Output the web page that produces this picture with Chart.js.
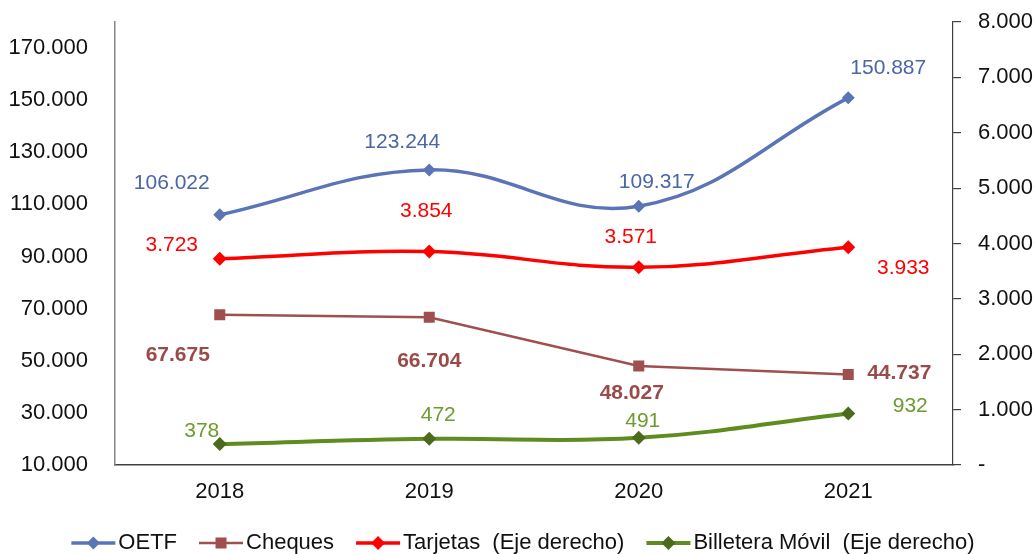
<!DOCTYPE html>
<html>
<head>
<meta charset="utf-8">
<script src="https://cdn.jsdelivr.net/npm/chart.js@4/dist/chart.umd.min.js"></script>
<style>
  html, body { margin: 0; padding: 0; background: #fff; }
  #wrap { width: 1036px; height: 554px; }
</style>
</head>
<body>
<div id="wrap"><canvas id="chart" width="1036" height="554"></canvas></div>
<script>
// datos
const years = ['2018', '2019', '2020', '2021']
const oetf = [106022, 123244, 109317, 150887]
const cheques = [67675, 66704, 48027, 44737]
const tarjetas = [3723, 3854, 3571, 3933]        // eje derecho
const billetera = [378, 472, 491, 932]           // eje derecho
const leftTicks = [10000, 30000, 50000, 70000, 90000, 110000, 130000, 150000, 170000]
const rightTicks = [0, 1000, 2000, 3000, 4000, 5000, 6000, 7000, 8000]

// desplazamiento de las etiquetas respecto del punto (px)
const labelShift = {
  OETF: [[-48, -32], [-27, -28], [18, -24], [40, -30]],
  Cheques: [[-42, 40], [0, 44], [-7, 27], [51, -1]],
  Tarjetas: [[-48, -14], [-3, -40], [-8, -30], [55, 21]],
  Billetera: [[-18, -13], [9, -24], [4, -17], [62, -7]]
}

const FONT = '"Liberation Sans", Arial, sans-serif'
const fmt = v => v === 0 ? '-' : v.toLocaleString('de-DE')

const valueLabels = {
  id: 'valueLabels',
  afterDatasetsDraw(chart) {
    const ctx = chart.ctx
    chart.data.datasets.forEach((ds, i) => {
      const meta = chart.getDatasetMeta(i)
      const shifts = labelShift[ds.key]
      ctx.save()
      ctx.font = (ds.key === 'Cheques' ? 'bold ' : '') + '21px ' + FONT
      ctx.fillStyle = ds.labelColor
      ctx.textAlign = 'center'
      ctx.textBaseline = 'middle'
      meta.data.forEach((pt, j) => {
        ctx.fillText(fmt(ds.data[j]), pt.x + shifts[j][0], pt.y + shifts[j][1])
      })
      ctx.restore()
    })
  }
}

const lineLegend = {
  id: 'lineLegend',
  afterDraw(chart) {
    const ctx = chart.ctx
    const y = 543
    ctx.save()
    ctx.font = '22px ' + FONT
    ctx.textBaseline = 'middle'
    const items = chart.data.datasets.map(ds => ({ ds, w: 44 + 3 + ctx.measureText(ds.label).width }))
    const gap = 22
    const total = items.reduce((a, it) => a + it.w, 0) + gap * (items.length - 1)
    let x = 523 - total / 2
    items.forEach(({ ds, w }) => {
      ctx.strokeStyle = ds.borderColor
      ctx.lineWidth = ds.borderWidth
      ctx.beginPath()
      ctx.moveTo(x, y)
      ctx.lineTo(x + 44, y)
      ctx.stroke()
      ctx.fillStyle = ds.pointBackgroundColor
      const r = ds.pointRadius
      ctx.beginPath()
      if (ds.pointStyle === 'rect') {
        const s = r * Math.SQRT1_2
        ctx.rect(x + 22 - s, y - s, 2 * s, 2 * s)
      } else {
        ctx.moveTo(x + 22 - r, y)
        ctx.lineTo(x + 22, y - r)
        ctx.lineTo(x + 22 + r, y)
        ctx.lineTo(x + 22, y + r)
        ctx.closePath()
      }
      ctx.fill()
      ctx.fillStyle = '#111'
      ctx.fillText(ds.label, x + 47, y)
      x += w + gap
    })
    ctx.restore()
  }
}

const tickFont = { family: FONT, size: 22 }
// el alto de las etiquetas no debe empujar el área del gráfico
const noPad = s => { s.paddingTop = 0; s.paddingBottom = 0 }

new Chart(document.getElementById('chart'), {
  type: 'line',
  data: {
    labels: years,
    datasets: [
      {
        key: 'OETF', label: 'OETF', data: oetf, yAxisID: 'y',
        borderColor: '#5B74B6', borderWidth: 3.5, tension: 0.4,
        pointStyle: 'rectRot', pointRadius: 6.5,
        pointBackgroundColor: '#5B74B6', pointBorderColor: '#5B74B6', pointBorderWidth: 0,
        labelColor: '#4A66A6'
      },
      {
        key: 'Cheques', label: 'Cheques', data: cheques, yAxisID: 'y',
        borderColor: '#A04F4F', borderWidth: 2.5, tension: 0,
        pointStyle: 'rect', pointRadius: 7.8,
        pointBackgroundColor: '#A04F4F', pointBorderColor: '#A04F4F', pointBorderWidth: 0,
        labelColor: '#9B4A4A'
      },
      {
        key: 'Tarjetas', label: 'Tarjetas  (Eje derecho)', data: tarjetas, yAxisID: 'y1',
        borderColor: '#FF0000', borderWidth: 3.5, tension: 0.4,
        pointStyle: 'rectRot', pointRadius: 7,
        pointBackgroundColor: '#FF0000', pointBorderColor: '#FF0000', pointBorderWidth: 0,
        labelColor: '#FF0000'
      },
      {
        key: 'Billetera', label: 'Billetera Móvil  (Eje derecho)', data: billetera, yAxisID: 'y1',
        borderColor: '#5E8C1F', borderWidth: 4, tension: 0.4,
        pointStyle: 'rectRot', pointRadius: 7,
        pointBackgroundColor: '#4B6A1C', pointBorderColor: '#4B6A1C', pointBorderWidth: 0,
        labelColor: '#6E9A2E'
      }
    ]
  },
  options: {
    responsive: false,
    animation: false,
    layout: { padding: { top: 22, left: 0, right: 0, bottom: 0 } },
    plugins: {
      legend: { display: false },
      tooltip: { enabled: false }
    },
    scales: {
      x: {
        offset: true,
        grid: { display: false, drawTicks: false },
        border: { color: '#404040', width: 1.5 },
        ticks: { font: tickFont, color: '#111', padding: 14 },
        afterFit(s) { s.height = 89 }
      },
      y: {
        position: 'left',
        min: 10000, max: 180000,
        afterBuildTicks(s) { s.ticks = leftTicks.map(v => ({ value: v })) },
        grid: { display: false, drawTicks: false },
        border: { color: '#868686', width: 1.5 },
        ticks: { font: tickFont, color: '#111', padding: 27, callback: v => fmt(v) },
        afterFit(s) { s.width = 115; noPad(s) }
      },
      y1: {
        position: 'right',
        min: 0, max: 8000,
        afterBuildTicks(s) { s.ticks = rightTicks.map(v => ({ value: v })) },
        grid: { drawOnChartArea: false, drawTicks: true, tickLength: 8, color: '#404040', lineWidth: 1.2 },
        border: { color: '#404040', width: 1.2 },
        ticks: { font: tickFont, color: '#111', padding: 17, callback: v => fmt(v) },
        afterFit(s) { s.width = 83; noPad(s) }
      }
    }
  },
  plugins: [valueLabels, lineLegend]
})
</script>
</body>
</html>
